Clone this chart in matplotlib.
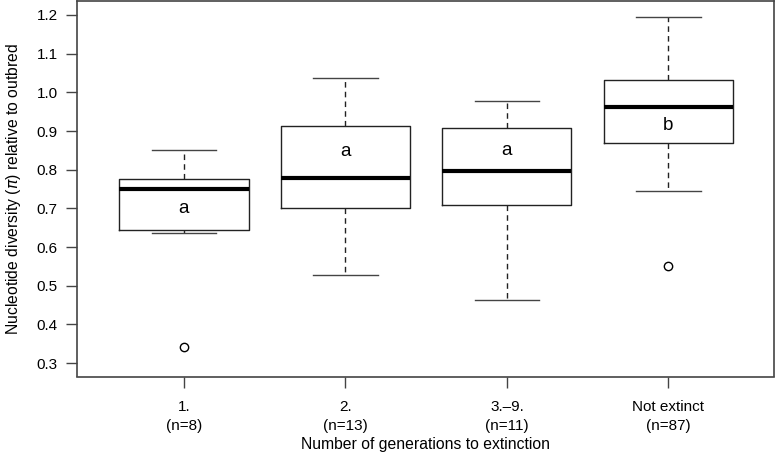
import matplotlib
matplotlib.use("Agg")
import matplotlib.pyplot as plt

plt.rcParams['font.family'] = ['Liberation Sans', 'DejaVu Sans']

categories = ["1.\n(n=8)", "2.\n(n=13)", "3.\u20139.\n(n=11)", "Not extinct\n(n=87)"]
whislo = [0.636, 0.527, 0.464, 0.745]
q1 = [0.645, 0.702, 0.710, 0.868]
med = [0.749, 0.779, 0.796, 0.963]
q3 = [0.777, 0.912, 0.909, 1.031]
whishi = [0.851, 1.038, 0.977, 1.194]
outliers = [[0.341], [], [], [0.551]]
letters = ["a", "a", "a", "b"]
letter_y = [0.700, 0.848, 0.850, 0.913]

fig = plt.figure(figsize=(7.76, 4.54), dpi=100)
ax = fig.add_axes([77/776, 1-376.5/454, (774-77)/776, 375.5/454])

stats = []
for i in range(len(categories)):
    stats.append(dict(whislo=whislo[i], q1=q1[i], med=med[i], q3=q3[i],
                      whishi=whishi[i], fliers=outliers[i]))

ax.bxp(stats, positions=[1, 2, 3, 4], widths=0.8, patch_artist=False,
       boxprops=dict(color='#222222', linewidth=1.0),
       medianprops=dict(color='black', linewidth=3.0, solid_capstyle='butt'),
       whiskerprops=dict(color='#222222', linewidth=1.0, linestyle=(0, (4, 3))),
       capprops=dict(color='#444444', linewidth=1.0),
       capwidths=0.4,
       flierprops=dict(marker='o', markersize=6, markerfacecolor='none',
                       markeredgecolor='black', markeredgewidth=1.0))

for i, (l, y) in enumerate(zip(letters, letter_y)):
    ax.text(i + 1, y, l, ha='center', va='center', fontsize=13.5)

ax.set_xlim(0.338, 4.654)
ax.set_ylim(0.2655, 1.236)
yt = [0.3, 0.4, 0.5, 0.6, 0.7, 0.8, 0.9, 1.0, 1.1, 1.2]
ax.set_yticks(yt)
ax.set_yticklabels([f"{v:.1f}" for v in yt])
ax.set_xticks([1, 2, 3, 4])
ax.set_xticklabels(categories, linespacing=1.4)
ax.tick_params(axis='both', length=8, width=1, color='#444444', labelsize=11)
ax.tick_params(axis='x', pad=9)
ax.tick_params(axis='y', pad=6)
for s in ax.spines.values():
    s.set_color('#444444')
    s.set_linewidth(1.2)

ax.set_xlabel("Number of generations to extinction", fontsize=11.3, labelpad=3)
ax.set_ylabel("Nucleotide diversity ($\\pi$) relative to outbred", fontsize=11.3, labelpad=10)

fig.savefig("out.png", dpi=100)
